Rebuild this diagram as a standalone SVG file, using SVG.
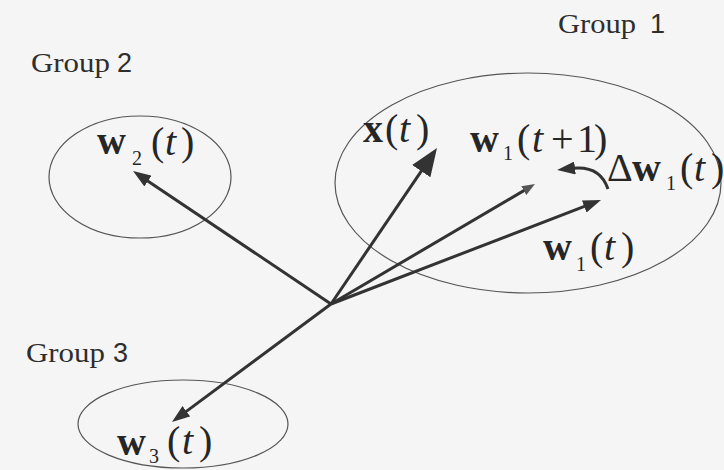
<svg xmlns="http://www.w3.org/2000/svg" width="724" height="470" viewBox="0 0 724 470">
<style>
.grp{font-family:"Liberation Serif","Times New Roman",serif;font-size:27px;fill:#2e2e2e}
.dig{font-family:"Liberation Sans",Arial,sans-serif}
.m{font-family:"Liberation Serif","Times New Roman",serif;font-size:40px;fill:#262626}
.b{font-weight:bold}
.i{font-style:italic}
.sub{font-size:20px}
.ell{fill:none;stroke:#555;stroke-width:1.2}
.ln{fill:none;stroke:#333;stroke-width:3}
</style>
<defs>
<marker id="ah" markerUnits="userSpaceOnUse" viewBox="0 0 18 13" markerWidth="18" markerHeight="13" refX="3" refY="6.5" orient="auto"><path d="M0,0 L18,6.5 L0,13 z" fill="#333"/></marker>
<marker id="ahBig" markerUnits="userSpaceOnUse" viewBox="0 0 28 22" markerWidth="28" markerHeight="22" refX="4" refY="11" orient="auto"><path d="M0,0 L28,11 L0,22 z" fill="#333"/></marker>
<marker id="ahSm" markerUnits="userSpaceOnUse" viewBox="0 0 13 10" markerWidth="13" markerHeight="10" refX="2" refY="5" orient="auto"><path d="M0,0 L13,5 L0,10 z" fill="#555"/></marker>
</defs>
<rect width="724" height="470" fill="#f5f5f5"/>
<g id="group1">
<ellipse class="ell" cx="528" cy="183" rx="193" ry="110"/>
<text class="grp" x="558" y="33"><tspan textLength="78" lengthAdjust="spacingAndGlyphs">Group</tspan><tspan class="dig" x="650">1</tspan></text>
</g>
<g id="group2">
<ellipse class="ell" cx="140" cy="177" rx="91" ry="61"/>
<text class="grp" x="31" y="72"><tspan textLength="79" lengthAdjust="spacingAndGlyphs">Group</tspan><tspan class="dig" x="117">2</tspan></text>
</g>
<g id="group3">
<ellipse class="ell" cx="183" cy="424" rx="105" ry="44"/>
<text class="grp" x="26" y="362"><tspan textLength="79" lengthAdjust="spacingAndGlyphs">Group</tspan><tspan class="dig" x="113">3</tspan></text>
</g>
<g id="connectors">
<line class="ln" x1="331" y1="304" x2="145.5" y2="179.4" marker-end="url(#ah)"/>
<line class="ln" x1="331" y1="304" x2="184" y2="413.1" marker-end="url(#ah)"/>
<line class="ln" x1="331" y1="304" x2="423.5" y2="167.8" stroke-width="6" marker-end="url(#ahBig)"/>
<line class="ln" x1="331" y1="304" x2="525.5" y2="189.6" stroke="#555" stroke-width="2.5" marker-end="url(#ahSm)"/>
<line class="ln" x1="331" y1="304" x2="587" y2="205.4" marker-end="url(#ah)"/>
<path class="ln" d="M608,189 Q600,165 572,168.3" marker-end="url(#ah)"/>
</g>
<g id="label-x">
<text class="m"><tspan class="b" x="363" y="142">x</tspan><tspan x="385" y="142">(</tspan><tspan class="i" x="399" y="142">t</tspan><tspan x="416" y="142">)</tspan></text>
</g>
<g id="label-w1t1">
<text class="m"><tspan class="b" x="470" y="152">w</tspan><tspan class="sub" x="503" y="160">1</tspan><tspan x="517" y="152">(</tspan><tspan class="i" x="532" y="152">t</tspan><tspan x="551" y="152">+</tspan><tspan x="577" y="152">1</tspan><tspan x="594" y="152">)</tspan></text>
</g>
<g id="label-dw1">
<text class="m"><tspan x="607" y="181">Δ</tspan><tspan class="b" x="632" y="181">w</tspan><tspan class="sub" x="666" y="190">1</tspan><tspan x="680" y="181">(</tspan><tspan class="i" x="694" y="181">t</tspan><tspan x="711" y="181">)</tspan></text>
</g>
<g id="label-w1">
<text class="m"><tspan class="b" x="543" y="260">w</tspan><tspan class="sub" x="576" y="271">1</tspan><tspan x="590" y="260">(</tspan><tspan class="i" x="604" y="260">t</tspan><tspan x="621" y="260">)</tspan></text>
</g>
<g id="label-w2">
<text class="m"><tspan class="b" x="97" y="154">w</tspan><tspan class="sub" x="132" y="165">2</tspan><tspan x="151" y="155">(</tspan><tspan class="i" x="165" y="155">t</tspan><tspan x="181" y="155">)</tspan></text>
</g>
<g id="label-w3">
<text class="m"><tspan class="b" x="117" y="455">w</tspan><tspan class="sub" x="149" y="463">3</tspan><tspan x="167" y="454">(</tspan><tspan class="i" x="182" y="454">t</tspan><tspan x="199" y="454">)</tspan></text>
</g>
</svg>
